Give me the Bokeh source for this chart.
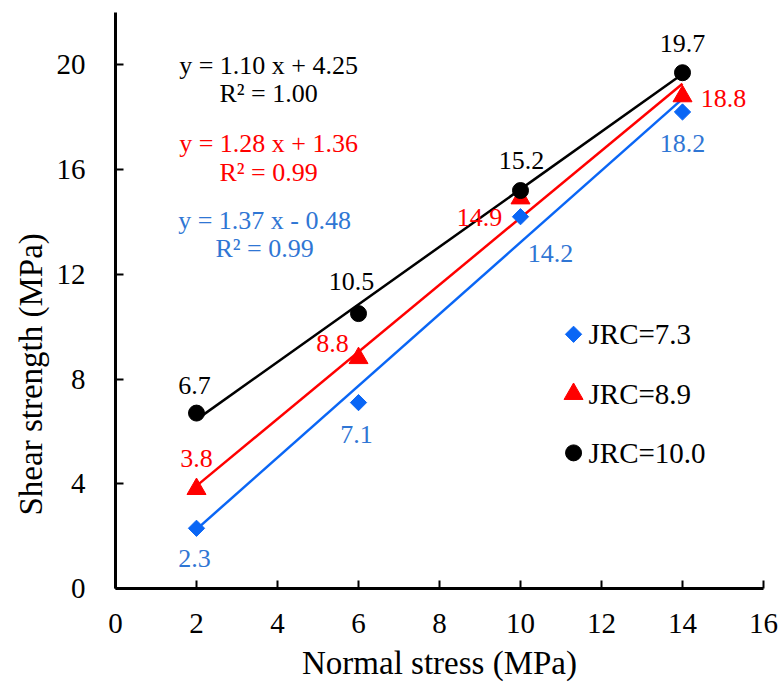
from bokeh.plotting import figure
from bokeh.models import Range1d, FixedTicker, Label, Title
from bokeh.core.properties import value
from bokeh.embed import file_html
from bokeh.resources import INLINE

# Normal stress levels (MPa)
normal_stress = [2, 6, 10, 14]

# Measured peak shear strength (MPa) for each roughness level
shear_jrc73 = [2.3, 7.1, 14.2, 18.2]
shear_jrc89 = [3.8, 8.8, 14.9, 18.8]
shear_jrc100 = [6.7, 10.5, 15.2, 19.7]

series_names = ["JRC=7.3", "JRC=8.9", "JRC=10.0"]

# Linear fits: slope, intercept, R²
fit_slope = [1.37, 1.28, 1.10]
fit_intercept = [-0.48, 1.36, 4.25]
fit_r2 = [0.99, 0.99, 1.00]

x_ticks = [0, 2, 4, 6, 8, 10, 12, 14, 16]
y_ticks = [0, 4, 8, 12, 16, 20]

FONT = "Liberation Serif"

p = figure(width=781, height=686, output_backend="svg", toolbar_location=None,
           x_range=Range1d(0, 16), y_range=Range1d(0, 22),
           min_border_left=115, min_border_right=18, min_border_top=12, min_border_bottom=98)
p.outline_line_color = None
p.xgrid.visible = False
p.ygrid.visible = False
p.background_fill_color = "white"
p.border_fill_color = "white"

for ax in (p.xaxis[0], p.yaxis[0]):
    ax.axis_line_width = 3
    ax.axis_line_color = "black"
    ax.major_tick_line_width = 2
    ax.major_tick_in = 8
    ax.major_tick_out = 0
    ax.minor_tick_line_color = None
    ax.major_label_text_font = FONT
    ax.major_label_text_font_size = "29px"
    ax.major_label_text_color = "black"

p.xaxis.ticker = FixedTicker(ticks=x_ticks)
p.yaxis.ticker = FixedTicker(ticks=y_ticks)
p.xaxis.major_label_standoff = 25
p.yaxis.major_label_standoff = 30

p.xaxis.axis_label = "Normal stress (MPa)"
p.xaxis.axis_label_text_font = FONT
p.xaxis.axis_label_text_font_size = "33px"
p.xaxis.axis_label_text_font_style = "normal"
p.xaxis.axis_label_text_color = "black"
p.xaxis.axis_label_standoff = 9

# Vertical axis title, anchored from the lower end of the axis
y_title = Title(text="Shear strength (MPa)", align="left", offset=73, standoff=10,
                text_font=FONT, text_font_size="33px", text_font_style="normal",
                text_color="black")
p.add_layout(y_title, "left")

line_colors = ["#0A66F5", "#FF0000", "#000000"]
label_colors = ["#2F76D4", "#FF0000", "#000000"]
series = [shear_jrc73, shear_jrc89, shear_jrc100]

# Fitted trend lines over the tested stress range
x_fit = [normal_stress[0], normal_stress[-1]]
for k in range(3):
    y_fit = [fit_slope[k] * xv + fit_intercept[k] for xv in x_fit]
    p.line(x_fit, y_fit, line_color=line_colors[k], line_width=2.5)

# Measured points
marker_style = [dict(marker="square", size=11.5, angle=0.7854),
                dict(marker="triangle", size=19),
                dict(marker="circle", size=16)]
for k in range(3):
    p.scatter(normal_stress, series[k], fill_color=line_colors[k],
              line_color=line_colors[k], **marker_style[k])

# Value labels, offset (px) around each point
offsets = [
    [(-2, 30), (-2, 32), (30, 37), (0, 32)],
    [(0, -31), (-26, -15), (-41, 19), (41, 2)],
    [(-2, -28), (-7, -32), (1, -30), (0, -29)],
]
for k in range(3):
    for i, xv in enumerate(normal_stress):
        yv = series[k][i]
        dx, dy = offsets[k][i]
        p.text(x=[xv], y=[yv], text=[f"{yv:.1f}"], x_offset=dx, y_offset=dy,
               text_align="center", text_baseline="middle",
               text_font=value(FONT), text_font_size="26px", text_color=label_colors[k])

# Fit equations
eq_pos = [(3.68, 14.06, 13.0), (3.78, 17.0, 15.9), (3.78, 19.98, 18.9)]
for k in (2, 1, 0):
    b = fit_intercept[k]
    sign = "+" if b >= 0 else "-"
    eq = f"y = {fit_slope[k]:.2f} x {sign} {abs(b):.2f}"
    r2 = f"R² = {fit_r2[k]:.2f}"
    ex, ey, ry = eq_pos[k]
    for txt, yy in ((eq, ey), (r2, ry)):
        p.add_layout(Label(x=ex, y=yy, text=txt, text_align="center", text_baseline="middle",
                           text_font=FONT, text_font_size="26px", text_color=label_colors[k]))

# Legend: key marker plus series name, stacked top to bottom
legend_x = 11.31
legend_text_x = 11.68
legend_y = [9.71, 7.43, 5.18]
for k in range(3):
    p.scatter([legend_x], [legend_y[k]], fill_color=line_colors[k],
              line_color=line_colors[k], **marker_style[k])
    p.text(x=[legend_text_x], y=[legend_y[k]], text=[series_names[k]],
           text_align="left", text_baseline="middle",
           text_font=value(FONT), text_font_size="29px", text_color="black")

open("out.html", "w").write(file_html(p, INLINE))
